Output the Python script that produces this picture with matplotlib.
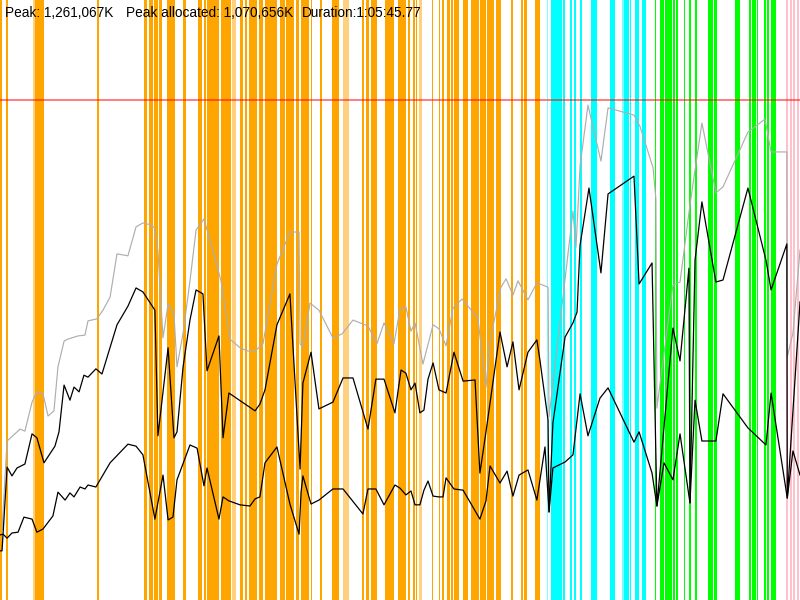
import matplotlib
matplotlib.use("Agg")
import matplotlib.pyplot as plt

# Run length (s) and memory scale (thousands of K)
DURATION = 3945.77
MEM_TOP = 1513.2
PEAK = 1261.067
PEAK_ALLOC = 1070.656

# Heap committed (grey)
gray_t = [10, 35, 99, 123, 158, 182, 212, 237, 266, 286, 316, 335, 385, 419, 434, 478,
          508, 543, 577, 631, 671, 705, 745, 764, 779, 804, 829, 858, 873, 903, 937, 967,
          1006, 1051, 1090, 1134, 1184, 1223, 1258, 1297, 1366, 1430, 1475, 1480, 1494,
          1529, 1573, 1642, 1687, 1741, 1815, 1859, 1894, 1943, 1973, 2002, 2027, 2047,
          2086, 2136, 2165, 2200, 2234, 2279, 2357, 2397, 2417, 2471, 2496, 2530, 2555,
          2604, 2648, 2703, 2708, 2826, 2841, 2861, 2900, 2964, 2999, 3127, 3156, 3221,
          3235, 3240, 3319, 3354, 3403, 3462, 3531, 3566, 3689, 3773, 3803, 3881, 3883,
          3911, 3946]
gray_m = [177, 401, 431, 426, 499, 525, 520, 464, 477, 588, 653, 658, 666, 668, 704, 709,
          731, 764, 873, 868, 941, 951, 946, 938, 880, 661, 747, 721, 588, 673, 805, 933,
          961, 880, 805, 658, 636, 628, 628, 646, 847, 928, 928, 646, 638,
          749, 731, 661, 671, 706, 691, 646, 699, 646, 734, 739, 678, 699,
          595, 694, 684, 641, 736, 759, 711, 537, 653, 789, 810, 769, 805,
          757, 800, 789, 462, 981, 890, 1095, 1248, 1107, 1241, 1223, 1195, 1090,
          1011, 484, 794, 802, 996, 1203, 1027, 1042, 1180, 1213, 1130, 1130, 613,
          673, 883]

# Allocated (black, upper)
alloc_t = [0, 10, 35, 59, 84, 123, 158, 182, 217, 271, 291, 316, 345, 365, 390, 414, 434,
           473, 503, 577, 631, 671, 705, 764, 779, 829, 858, 873, 903, 937, 967, 1001,
           1021, 1080, 1100, 1129, 1258, 1282, 1307, 1366, 1430, 1480, 1494, 1534, 1573,
           1642, 1692, 1741, 1815, 1854, 1894, 1948, 1978, 2002, 2027, 2047, 2071, 2091,
           2111, 2136, 2165, 2200, 2239, 2284, 2343, 2367, 2397, 2466, 2501, 2530, 2560,
           2604, 2648, 2663, 2703, 2708, 2727, 2787, 2826, 2846, 2861, 2905, 2964, 2999,
           3127, 3152, 3216, 3240, 3319, 3354, 3398, 3403, 3428, 3462, 3531, 3566, 3689,
           3778, 3803, 3881, 3883, 3946]
alloc_m = [124, 124, 335, 313, 333, 343, 419, 409, 346, 388, 424, 542, 504, 537, 525, 567, 562,
           583, 570, 694, 741, 787, 777, 731, 414, 636, 409, 424, 588, 706, 782, 772,
           578, 666, 409, 522, 477, 494, 530, 694, 772, 330, 547, 625, 482,
           499, 560, 560, 431, 557, 557, 472, 580, 572, 530, 547, 472, 479,
           557, 598, 530, 522, 625, 552, 555, 320, 424, 676, 588, 651, 530,
           625, 656, 605, 454, 222, 446, 663, 699, 726, 895, 1039, 825, 1024,
           1069, 797, 850, 237, 686, 603, 837, 245, 857, 1004, 802, 807, 1039,
           857, 782, 898, 257, 752]

# Live after GC (black, lower)
live_t = [0, 15, 35, 59, 89, 118, 158, 182, 212, 261, 286, 321, 345, 365, 395, 419, 434,
          473, 543, 631, 671, 705, 764, 804, 829, 853, 873, 937, 972, 1006, 1021, 1080,
          1100, 1129, 1184, 1233, 1258, 1282, 1307, 1366, 1430, 1475, 1485, 1494, 1534,
          1573, 1642, 1692, 1790, 1815, 1854, 1894, 1948, 1973, 2002, 2027, 2047, 2071,
          2091, 2111, 2136, 2165, 2185, 2200, 2239, 2284, 2367, 2397, 2417, 2466, 2501,
          2530, 2560, 2604, 2648, 2688, 2708, 2727, 2787, 2826, 2861, 2900, 2959, 2999,
          3127, 3152, 3216, 3240, 3275, 3319, 3354, 3403, 3428, 3462, 3531, 3566, 3689,
          3778, 3803, 3883, 3911, 3946]
live_m = [164, 166, 156, 169, 171, 209, 204, 171, 179, 212, 272, 252, 270, 260, 285, 280, 290,
          285, 346, 393, 388, 366, 204, 315, 202, 209, 303, 391, 383, 288, 333, 204,
          260, 250, 240, 237, 255, 260, 346, 386, 242, 166, 272, 313, 242,
          252, 280, 280, 217, 280, 280, 240, 290, 282, 265, 275, 240, 240,
          277, 300, 262, 260, 260, 308, 280, 277, 204, 250, 338, 295, 325,
          262, 315, 328, 252, 386, 222, 333, 348, 366, 520, 414, 509, 535,
          398, 424, 320, 237, 346, 303, 419, 245, 504, 401, 401, 520, 434,
          391, 522, 257, 376, 315]

# GC events (start, end in s)
young_start = [0, 30, 173, 480, 710, 735, 760, 784, 824, 903, 977, 1006, 1021, 1090,
               1184, 1208, 1228, 1277, 1307, 1381, 1411, 1460, 1485, 1534, 1578, 1637,
               1785, 1805, 1830, 1899, 1963, 2012, 2037, 2052, 2131, 2165, 2180, 2205,
               2224, 2239, 2284, 2323, 2367, 2402, 2429, 2446, 2520, 2570, 2584, 2639]
young_end = [10, 38, 217, 487, 725, 755, 779, 799, 863, 917, 996, 1016, 1080, 1139,
             1198, 1218, 1268, 1297, 1366, 1406, 1450, 1475, 1524, 1539, 1588, 1672,
             1795, 1820, 1859, 1943, 2002, 2022, 2047, 2057, 2136, 2170, 2190, 2219,
             2234, 2264, 2308, 2362, 2397, 2427, 2436, 2471, 2530, 2579, 2599, 2663]
young_faint_start = [163, 1144, 1692, 2067]
young_faint_end = [173, 1164, 1721, 2081]

mixed_start = [2718, 2777, 2811, 2831, 2861, 2915, 3009, 3078, 3107, 3132, 3166]
mixed_end = [2772, 2787, 2821, 2841, 2870, 2944, 3033, 3102, 3112, 3152, 3186]
mixed_faint_start = [2698, 3068]
mixed_faint_end = [2703, 3078]

full_start = [3230, 3255, 3280, 3319, 3334, 3374, 3398, 3428, 3492, 3521, 3625, 3694,
              3709, 3734, 3768, 3783, 3803]
full_end = [3235, 3275, 3314, 3329, 3344, 3378, 3408, 3438, 3516, 3536, 3650, 3704,
            3729, 3738, 3778, 3793, 3827]

remark_start = [3877, 3896, 3911, 3931]
remark_end = [3886, 3906, 3921, 3941]

fig = plt.figure(figsize=(8, 6), dpi=100)
ax = fig.add_axes([0, 0, 1, 1])
ax.set_xlim(0, DURATION)
ax.set_ylim(0, MEM_TOP)
ax.axis("off")


def bands(starts, ends, color, alpha=1.0):
    for s, e in zip(starts, ends):
        ax.axvspan(s, e, color=color, alpha=alpha, lw=0, zorder=1)


bands(young_start, young_end, "#FFA500")
bands(young_faint_start, young_faint_end, "#FFA500", 0.5)
bands(mixed_start, mixed_end, "#00FFFF")
bands(mixed_faint_start, mixed_faint_end, "#00FFFF", 0.5)
bands(full_start, full_end, "#00FF00")
bands(remark_start, remark_end, "#FFC0CB")

ax.plot(gray_t, gray_m, color="#AEAEAE", lw=0.85, zorder=3)
ax.plot(alloc_t, alloc_m, color="black", lw=0.9, zorder=4)
ax.plot(live_t, live_m, color="black", lw=0.9, zorder=4)
ax.axhline(PEAK, color="red", alpha=0.55, lw=1.3, zorder=5)

font = dict(family=["Liberation Sans", "DejaVu Sans"], size=9.8, color="black", va="baseline")
fig.text(5 / 800, 1 - 17 / 600, "Peak: 1,261,067K", **font)
fig.text(126 / 800, 1 - 17 / 600, "Peak allocated: 1,070,656K", **font)
fig.text(302 / 800, 1 - 17 / 600, "Duration:1:05:45.77", **font)

fig.savefig("out.png", dpi=100)
